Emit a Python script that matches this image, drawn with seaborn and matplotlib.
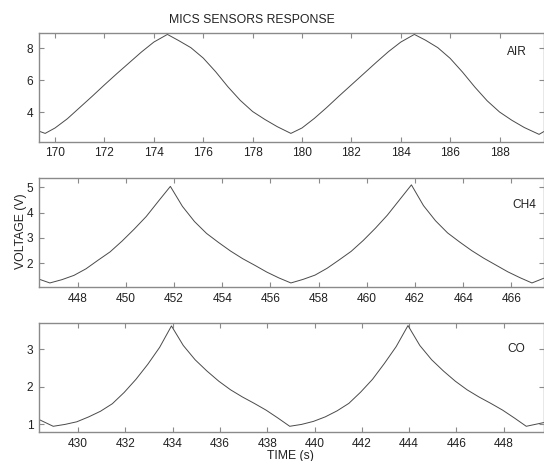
import matplotlib
matplotlib.use("Agg")
import matplotlib.pyplot as plt
import seaborn as sns
import pandas as pd

# ---------------- data ----------------
air_t = [169.35, 169.6, 170.0, 170.5, 171.0, 171.5, 172.0, 172.5, 173.0, 173.5, 174.0,
         174.55, 175.0, 175.5, 176.0, 176.5, 177.0, 177.5, 178.0, 178.5, 179.0, 179.55,
         180.0, 180.5, 181.0, 181.5, 182.0, 182.5, 183.0, 183.5, 184.0, 184.55, 185.0,
         185.5, 186.0, 186.5, 187.0, 187.5, 188.0, 188.5, 189.0, 189.6, 189.8]
air_v = [2.82, 2.68, 3.02, 3.6, 4.3, 5.0, 5.72, 6.42, 7.1, 7.78, 8.4,
         8.88, 8.5, 8.05, 7.4, 6.55, 5.6, 4.75, 4.05, 3.55, 3.1, 2.68,
         3.02, 3.62, 4.3, 5.02, 5.72, 6.42, 7.12, 7.8, 8.4, 8.88, 8.52,
         8.05, 7.38, 6.52, 5.58, 4.72, 4.02, 3.5, 3.05, 2.62, 2.8]

ch4_t = [446.4, 446.85, 447.35, 447.85, 448.35, 448.85, 449.35, 449.85, 450.35, 450.85,
         451.35, 451.85, 452.35, 452.85, 453.35, 453.85, 454.35, 454.85, 455.35, 455.85,
         456.35, 456.85, 457.35, 457.85, 458.35, 458.85, 459.35, 459.85, 460.35, 460.85,
         461.35, 461.85, 462.35, 462.85, 463.35, 463.85, 464.35, 464.85, 465.35, 465.85,
         466.35, 466.85, 467.35]
ch4_v = [1.37, 1.22, 1.35, 1.52, 1.78, 2.12, 2.45, 2.88, 3.35, 3.85,
         4.45, 5.04, 4.25, 3.65, 3.18, 2.82, 2.48, 2.18, 1.92, 1.65,
         1.42, 1.22, 1.36, 1.53, 1.8, 2.13, 2.47, 2.9, 3.38, 3.9,
         4.5, 5.1, 4.28, 3.68, 3.2, 2.84, 2.5, 2.2, 1.93, 1.66,
         1.43, 1.22, 1.41]

co_t = [428.35, 428.95, 429.45, 429.95, 430.45, 430.95, 431.45, 431.95, 432.45, 432.95,
        433.45, 433.95, 434.45, 434.95, 435.45, 435.95, 436.45, 436.95, 437.45, 437.95,
        438.45, 438.95, 439.45, 439.95, 440.45, 440.95, 441.45, 441.95, 442.45, 442.95,
        443.45, 443.95, 444.45, 444.95, 445.45, 445.95, 446.45, 446.95, 447.45, 447.95,
        448.45, 448.95, 449.7]
co_v = [1.13, 0.95, 1.0, 1.07, 1.2, 1.35, 1.55, 1.85, 2.2, 2.6,
        3.05, 3.62, 3.1, 2.72, 2.42, 2.15, 1.92, 1.73, 1.56, 1.38,
        1.17, 0.95, 1.0, 1.08, 1.2, 1.36, 1.56, 1.86, 2.2, 2.62,
        3.07, 3.63, 3.1, 2.72, 2.42, 2.15, 1.92, 1.73, 1.56, 1.38,
        1.17, 0.95, 1.05]

panel_names = ["AIR", "CH4", "CO"]
x_ticks = [[170, 172, 174, 176, 178, 180, 182, 184, 186, 188],
           [448, 450, 452, 454, 456, 458, 460, 462, 464, 466],
           [430, 432, 434, 436, 438, 440, 442, 444, 446, 448]]
y_ticks = [[4, 6, 8], [2, 3, 4, 5], [1, 2, 3]]
title = "MICS SENSORS RESPONSE"
xlabel = "TIME (s)"
ylabel = "VOLTAGE (V)"

# ---------------- figure ----------------
sns.set_theme(style="white")
plt.rcParams["font.family"] = ["Liberation Sans", "DejaVu Sans"]

W, H = 544, 461
fig = plt.figure(figsize=(W / 100, H / 100), dpi=100)

frames = [  # left, top, right, bottom in pixels
    (39, 33.3, 544, 141.7),
    (39, 178.3, 544, 287.0),
    (39, 323.3, 544, 432.3),
]
xlims = [(169.35, 189.8), (446.4, 467.35), (428.35, 449.7)]
ylims = [(2.16, 8.95), (1.06, 5.36), (0.79, 3.69)]
label_pos = [(0.946, 0.827), (0.962, 0.754), (0.945, 0.764)]

series = [(air_t, air_v), (ch4_t, ch4_v), (co_t, co_v)]
spine_col = "#8a8a8a"
line_col = "#4a4a4a"

for i, (l, t, r, b) in enumerate(frames):
    ax = fig.add_axes([l / W, 1 - b / H, (r - l) / W, (b - t) / H])
    df = pd.DataFrame({"t": series[i][0], "v": series[i][1]})
    sns.lineplot(data=df, x="t", y="v", ax=ax, color=line_col, linewidth=0.7,
                 sort=False, estimator=None)
    ax.set_xlim(*xlims[i])
    ax.set_ylim(*ylims[i])
    ax.set_xticks(x_ticks[i])
    ax.set_yticks(y_ticks[i])
    ax.set_xlabel("")
    ax.set_ylabel("")
    ax.tick_params(direction="in", length=3.5, width=0.8, color=spine_col,
                   labelsize=8.6, labelcolor="#222222", pad=4,
                   top=True, right=True, bottom=True, left=True)
    for s in ax.spines.values():
        s.set_color(spine_col)
        s.set_linewidth(1.0)
    ax.text(label_pos[i][0], label_pos[i][1], panel_names[i], transform=ax.transAxes,
            ha="center", va="center", fontsize=8.6, color="#222222")

fig.text(251.5 / W, 1 - 20 / H, title, ha="center", va="center",
         fontsize=8.8, color="#222222")
fig.text(21 / W, 1 - 231.5 / H, ylabel, ha="center", va="center", rotation=90,
         fontsize=8.8, color="#222222")
fig.text(290 / W, 1 - 456 / H, xlabel, ha="center", va="center",
         fontsize=8.8, color="#222222")

fig.savefig("out.png", dpi=100)
